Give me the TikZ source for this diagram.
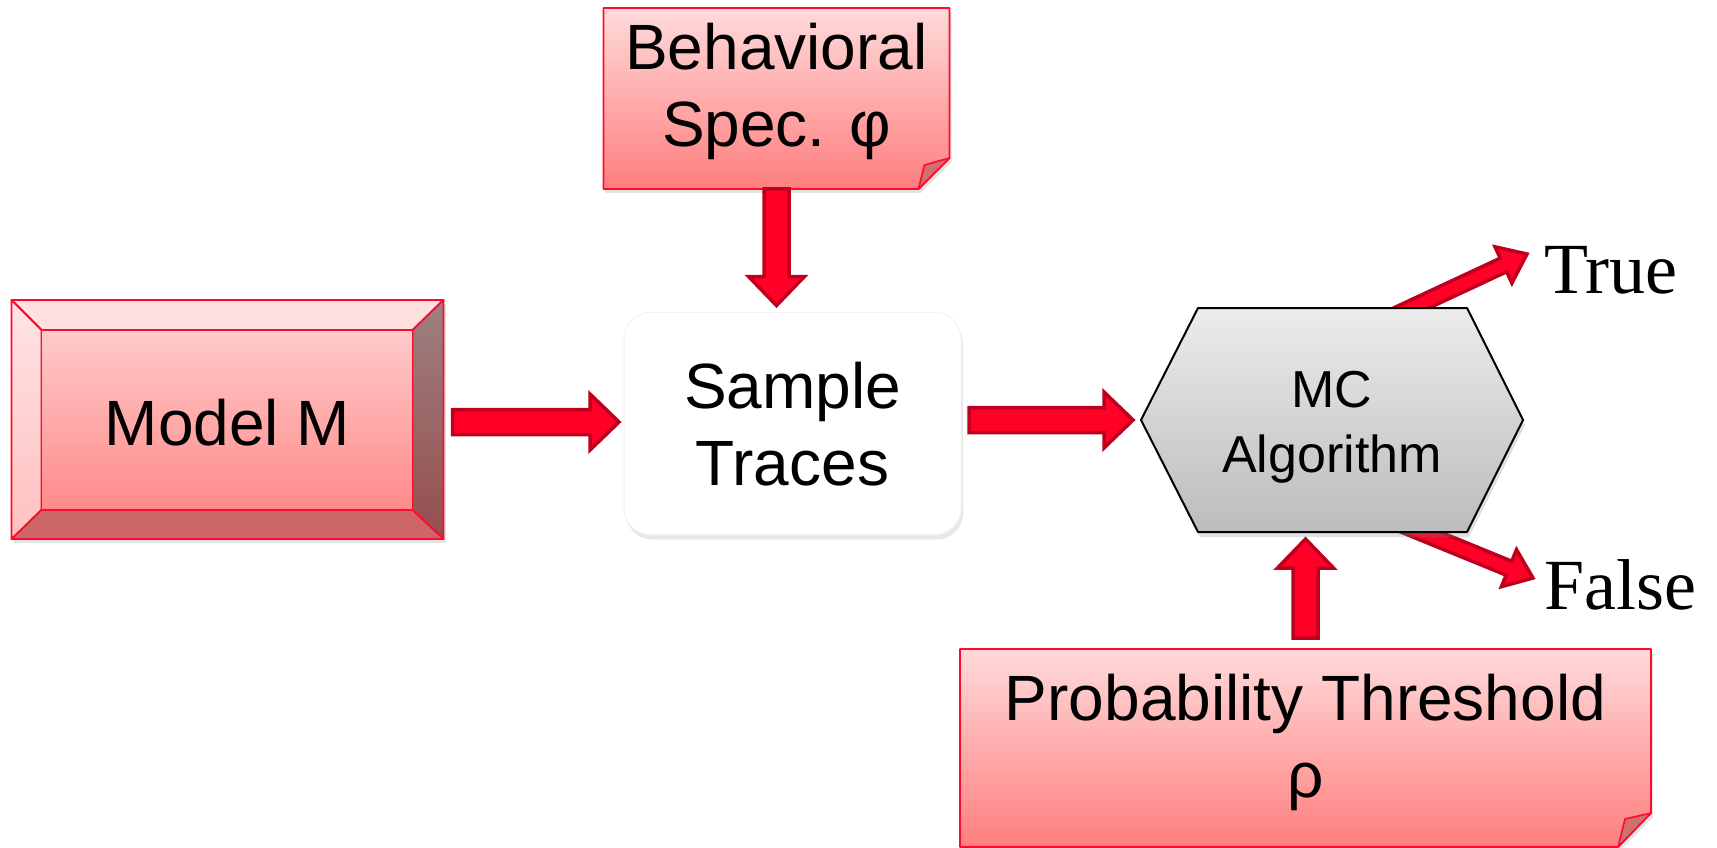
\documentclass[tikz,border=0pt]{standalone}
\usepackage{fontspec}
\setmainfont{Liberation Sans}
\newfontfamily\resultfont{Liberation Serif}
\usetikzlibrary{calc,shadows,backgrounds}

\definecolor{arrowred}{RGB}{255,0,38}
\definecolor{arrowedge}{RGB}{190,0,30}
\definecolor{boxedge}{RGB}{255,10,45}
\definecolor{notetop}{RGB}{255,218,218}
\definecolor{notebot}{RGB}{255,126,126}
\definecolor{foldfill}{RGB}{206,112,112}
\definecolor{facetop}{RGB}{255,224,224}
\definecolor{faceleftA}{RGB}{255,228,228}
\definecolor{faceleftB}{RGB}{255,192,192}
\definecolor{facerightA}{RGB}{158,128,128}
\definecolor{facerightB}{RGB}{150,78,78}
\definecolor{facebottom}{RGB}{205,102,102}
\definecolor{faceinnerA}{RGB}{255,202,202}
\definecolor{faceinnerB}{RGB}{255,138,138}
\definecolor{hextop}{RGB}{236,236,236}
\definecolor{hexbot}{RGB}{188,188,188}

% stacked, centred lines whose last baseline is raised by #1 from the node centre
\newcommand\blocklines[2]{\raisebox{#1}[0pt][0pt]{\begin{tabular}[b]{@{}c@{}}#2\end{tabular}}}

% block arrow: [style] {tail} {tip} {shaft half width} {head half width} {head length}
\newcommand\blockarrow[6][]{%
  \coordinate (ba-tail) at (#2);
  \coordinate (ba-tip) at (#3);
  \coordinate (ba-neck) at ($(ba-tip)!#6!(ba-tail)$);
  \path[blockarrow,#1]
    ($(ba-tail)!#4!90:(ba-tip)$) -- ($(ba-neck)!#4!90:(ba-tip)$)
    -- ($(ba-neck)!#5!90:(ba-tip)$) -- (ba-tip)
    -- ($(ba-neck)!#5!-90:(ba-tip)$) -- ($(ba-neck)!#4!-90:(ba-tip)$)
    -- ($(ba-tail)!#4!-90:(ba-tip)$) -- cycle;
}

\begin{document}
\begin{tikzpicture}[x=1pt,y=-1pt,
  every node/.style={inner sep=0pt, outer sep=0pt},
  bigtext/.style={font=\fontsize{64}{77}\selectfont},
  mctext/.style={font=\fontsize{52}{65}\selectfont},
  resulttext/.style={font=\resultfont\fontsize{72}{80}\selectfont},
  softshadow/.style={drop shadow={opacity=0.22, shadow xshift=2pt, shadow yshift=-4pt}},
  samplebox/.style={draw=black!5, line width=1pt, fill=white, rounded corners=26pt,
    drop shadow={opacity=0.18, shadow xshift=2pt, shadow yshift=-5pt}},
  face/.style={draw=boxedge, line width=1.8pt, line join=round},
  notebox/.style={draw=boxedge, line width=1.8pt, line join=round, top color=notetop, bottom color=notebot},
  fold/.style={draw=boxedge, line width=1.6pt, line join=round, fill=foldfill},
  hexbox/.style={draw=black, line width=2pt, line join=round, top color=hextop, bottom color=hexbot,
    drop shadow={opacity=0.25, shadow xshift=2pt, shadow yshift=-5pt}},
  blockarrow/.style={fill=arrowred, draw=arrowedge, line width=3.5pt, line join=miter},
]
\useasboundingbox (0,0) rectangle (1717,848);

% text of the blocks
\node[bigtext, minimum width=432pt, minimum height=239pt] (model) at (227.5,419.5)
  {\blocklines{-25.5pt}{Model M}};
\node[bigtext, minimum width=346pt, minimum height=181pt] (spec) at (776.5,98.5)
  {\blocklines{-48.5pt}{Behavioral\\Spec. φ}};
\node[bigtext, samplebox, minimum width=337pt, minimum height=222pt] (sample) at (792.5,423.5)
  {\blocklines{-61.5pt}{Sample\\Traces}};
\node[mctext, minimum width=382pt, minimum height=224pt] (mc) at (1332,420)
  {\blocklines{-52pt}{MC\\Algorithm}};
\node[bigtext, minimum width=691pt, minimum height=198pt] (prob) at (1305.5,748)
  {\blocklines{-49pt}{Probability Threshold\\ρ}};
\node[resulttext, anchor=base west] (restrue) at (1544,293) {True};
\node[resulttext, anchor=base west] (resfalse) at (1544,609) {False};

\begin{pgfonlayer}{background}
  % bevelled model block
  \coordinate (m-tl) at ($(model.north west)+(30,30)$);
  \coordinate (m-tr) at ($(model.north east)+(-31,30)$);
  \coordinate (m-br) at ($(model.south east)+(-31,-29)$);
  \coordinate (m-bl) at ($(model.south west)+(30,-29)$);
  \path[softshadow, fill=white] (model.north west) rectangle (model.south east);
  \path[face, fill=facetop] (model.north west) -- (model.north east) -- (m-tr) -- (m-tl) -- cycle;
  \path[face, top color=faceleftA, bottom color=faceleftB] (model.north west) -- (m-tl) -- (m-bl) -- (model.south west) -- cycle;
  \path[face, top color=facerightA, bottom color=facerightB] (model.north east) -- (model.south east) -- (m-br) -- (m-tr) -- cycle;
  \path[face, fill=facebottom] (model.south west) -- (m-bl) -- (m-br) -- (model.south east) -- cycle;
  \path[face, top color=faceinnerA, bottom color=faceinnerB] (m-tl) rectangle (m-br);

  % note with folded corner: behavioural specification
  \path[notebox, softshadow] (spec.north west) -- (spec.north east) -- ($(spec.south east)+(0,-31)$)
    -- ($(spec.south east)+(-31,0)$) -- (spec.south west) -- cycle;
  \path[fold] ($(spec.south east)+(0,-31)$) -- ($(spec.south east)+(-25,-24)$) -- ($(spec.south east)+(-31,0)$) -- cycle;

  % note with folded corner: probability threshold
  \path[notebox, softshadow] (prob.north west) -- (prob.north east) -- ($(prob.south east)+(0,-34)$)
    -- ($(prob.south east)+(-33,0)$) -- (prob.south west) -- cycle;
  \path[fold] ($(prob.south east)+(0,-34)$) -- ($(prob.south east)+(-26,-28)$) -- ($(prob.south east)+(-33,0)$) -- cycle;

  % flow arrows
  \blockarrow{spec.south}{$(spec.south |- sample.north)+(0,-7)$}{12.5pt}{28pt}{29pt}
  \blockarrow{$(model.east)+(9,2.5)$}{$(model.east -| sample.west)+(-5,2.5)$}{12.5pt}{28pt}{29pt}
  \blockarrow{$(sample.east)+(8,-3.5)$}{$(sample.east -| mc.west)+(-8,-3.5)$}{12.5pt}{28pt}{29pt}
  \blockarrow{$(prob.north)+(0,-11)$}{$(prob.north |- mc.south)+(0,7)$}{12.5pt}{28pt}{29pt}
  \blockarrow{$(mc.north)+(62,8)$}{$(mc.north east)+(4,-54)$}{7.5pt}{20pt}{26pt}
  \blockarrow{$(mc.south)+(64,-10)$}{$(mc.south east)+(10,46)$}{7.5pt}{20pt}{26pt}

  % model checking block
  \path[hexbox] (mc.west) -- ($(mc.north west)+(57,0)$) -- ($(mc.north east)+(-56,0)$) -- (mc.east)
    -- ($(mc.south east)+(-56,0)$) -- ($(mc.south west)+(57,0)$) -- cycle;
\end{pgfonlayer}
\end{tikzpicture}
\end{document}
